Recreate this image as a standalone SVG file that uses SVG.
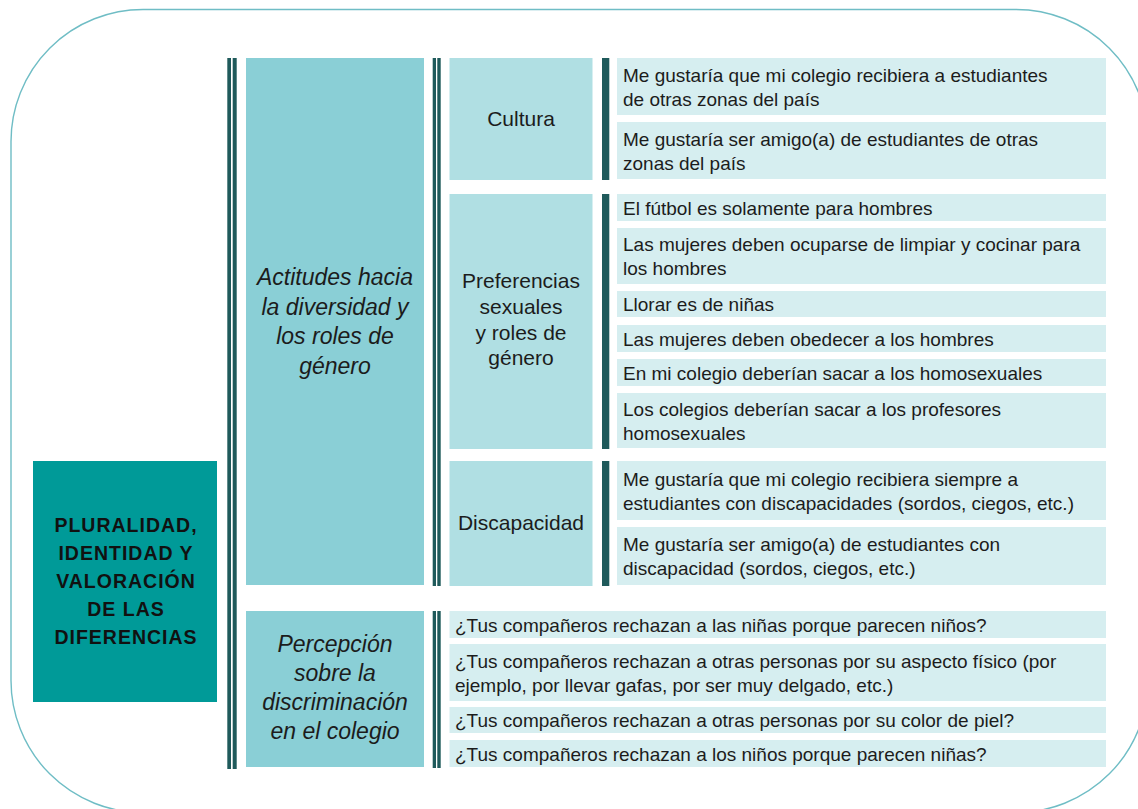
<svg xmlns="http://www.w3.org/2000/svg" width="1138" height="809" viewBox="0 0 1138 809">
<style>
.frame{fill:none;stroke:#6fbdc5;stroke-width:1.4}
.bar{fill:#1f5a5b}
.c1{fill:#009a98}
.c2{fill:#8acfd6}
.c3{fill:#b0dfe3}
.it{fill:#d6eef0}
.t{font-family:"Liberation Sans",Arial,sans-serif;fill:#1c1c1c}
.item{font-size:19px}
.cat{font-size:21px;text-anchor:middle}
.sub{font-size:23px;font-style:italic;text-anchor:middle}
.main{font-size:19.5px;font-weight:bold;letter-spacing:1px;text-anchor:middle;fill:#111}
</style>
<rect class="frame" x="11" y="9.5" width="1137" height="803" rx="132" ry="132"/>

<g id="connectors">
  <rect class="bar" x="227.3" y="58" width="3.7" height="711"/>
  <rect class="bar" x="232.7" y="58" width="4" height="711"/>
  <rect class="bar" x="432.7" y="58" width="3.3" height="528"/>
  <rect class="bar" x="437.3" y="58" width="3.4" height="528"/>
  <rect class="bar" x="432.7" y="611" width="3.3" height="157"/>
  <rect class="bar" x="437.3" y="611" width="3.4" height="157"/>
  <rect class="bar" x="602" y="58" width="7.3" height="122"/>
  <rect class="bar" x="602" y="194" width="7.3" height="255"/>
  <rect class="bar" x="602" y="461" width="7.3" height="125"/>
</g>

<g id="main">
  <rect class="c1" x="33" y="461" width="184" height="241"/>
  <text class="t main" x="126" y="532">PLURALIDAD,</text>
  <text class="t main" x="126" y="560">IDENTIDAD Y</text>
  <text class="t main" x="126" y="588">VALORACIÓN</text>
  <text class="t main" x="126" y="615.5">DE LAS</text>
  <text class="t main" x="126" y="643.5">DIFERENCIAS</text>
</g>

<g id="actitudes">
  <rect class="c2" x="246" y="58" width="178" height="527"/>
  <text class="t sub" x="335" y="285">Actitudes hacia</text>
  <text class="t sub" x="335" y="314.5">la diversidad y</text>
  <text class="t sub" x="335" y="344">los roles de</text>
  <text class="t sub" x="335" y="373.5">género</text>
</g>

<g id="percepcion">
  <rect class="c2" x="246" y="611" width="178" height="156"/>
  <text class="t sub" x="335" y="652">Percepción</text>
  <text class="t sub" x="335" y="681">sobre la</text>
  <text class="t sub" x="335" y="710">discriminación</text>
  <text class="t sub" x="335" y="739">en el colegio</text>
</g>

<g id="cultura">
  <rect class="c3" x="449.5" y="58" width="143" height="122"/>
  <text class="t cat" x="521" y="126">Cultura</text>
</g>

<g id="preferencias">
  <rect class="c3" x="449.5" y="194" width="143" height="255"/>
  <text class="t cat" x="521" y="288">Preferencias</text>
  <text class="t cat" x="521" y="314">sexuales</text>
  <text class="t cat" x="521" y="340">y roles de</text>
  <text class="t cat" x="521" y="365">género</text>
</g>

<g id="discapacidad">
  <rect class="c3" x="449.5" y="461" width="143" height="125"/>
  <text class="t cat" x="521" y="529.5">Discapacidad</text>
</g>

<g id="items-cultura">
  <rect class="it" x="617" y="58" width="489" height="57"/>
  <text class="t item" x="623" y="81.5">Me gustaría que mi colegio recibiera a estudiantes</text>
  <text class="t item" x="623" y="105.5">de otras zonas del país</text>
  <rect class="it" x="617" y="122" width="489" height="57"/>
  <text class="t item" x="623" y="145.5">Me gustaría ser amigo(a) de estudiantes de otras</text>
  <text class="t item" x="623" y="169.5">zonas del país</text>
</g>

<g id="items-preferencias">
  <rect class="it" x="617" y="194" width="489" height="27"/>
  <text class="t item" x="623" y="214.5">El fútbol es solamente para hombres</text>
  <rect class="it" x="617" y="228" width="489" height="56"/>
  <text class="t item" x="623" y="251">Las mujeres deben ocuparse de limpiar y cocinar para</text>
  <text class="t item" x="623" y="275">los hombres</text>
  <rect class="it" x="617" y="291" width="489" height="26"/>
  <text class="t item" x="623" y="311">Llorar es de niñas</text>
  <rect class="it" x="617" y="325" width="489" height="27"/>
  <text class="t item" x="623" y="345.5">Las mujeres deben obedecer a los hombres</text>
  <rect class="it" x="617" y="359" width="489" height="27"/>
  <text class="t item" x="623" y="379.5">En mi colegio deberían sacar a los homosexuales</text>
  <rect class="it" x="617" y="393" width="489" height="55"/>
  <text class="t item" x="623" y="415.5">Los colegios deberían sacar a los profesores</text>
  <text class="t item" x="623" y="439.5">homosexuales</text>
</g>

<g id="items-discapacidad">
  <rect class="it" x="617" y="461" width="489" height="59"/>
  <text class="t item" x="623" y="485.5">Me gustaría que mi colegio recibiera siempre a</text>
  <text class="t item" x="623" y="509.5">estudiantes con discapacidades (sordos, ciegos, etc.)</text>
  <rect class="it" x="617" y="527" width="489" height="58"/>
  <text class="t item" x="623" y="551">Me gustaría ser amigo(a) de estudiantes con</text>
  <text class="t item" x="623" y="575">discapacidad (sordos, ciegos, etc.)</text>
</g>

<g id="items-percepcion">
  <rect class="it" x="449.5" y="611" width="656.5" height="27"/>
  <text class="t item" x="455" y="631.5">¿Tus compañeros rechazan a las niñas porque parecen niños?</text>
  <rect class="it" x="449.5" y="644" width="656.5" height="57"/>
  <text class="t item" x="455" y="667.5">¿Tus compañeros rechazan a otras personas por su aspecto físico (por</text>
  <text class="t item" x="455" y="691.5">ejemplo, por llevar gafas, por ser muy delgado, etc.)</text>
  <rect class="it" x="449.5" y="707" width="656.5" height="26"/>
  <text class="t item" x="455" y="727">¿Tus compañeros rechazan a otras personas por su color de piel?</text>
  <rect class="it" x="449.5" y="740" width="656.5" height="27"/>
  <text class="t item" x="455" y="760.5">¿Tus compañeros rechazan a los niños porque parecen niñas?</text>
</g>
</svg>
